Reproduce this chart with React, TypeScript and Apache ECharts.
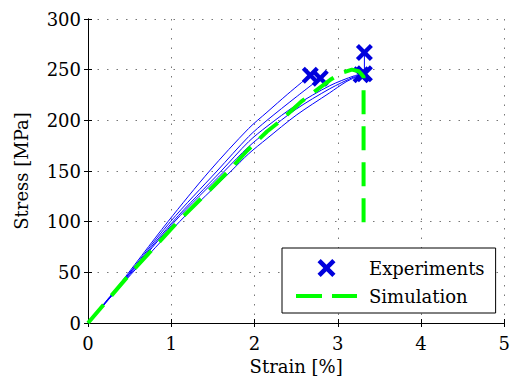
import React, { useEffect, useRef } from "react";
import * as echarts from "echarts";

const FONT = "DejaVu Serif";

// Strain [%] / Stress [MPa]
const expA = [[0, 0], [0.33, 33], [0.96, 100], [1.46, 150], [1.93, 192], [2.15, 208], [2.4, 226], [2.67, 244.5]];
const expB = [[0, 0], [0.33, 32], [0.99, 100], [1.55, 150], [1.93, 184], [2.15, 200], [2.5, 223], [2.79, 241.5]];
const expC = [[0, 0], [0.33, 32], [1.02, 100], [1.6, 150], [1.93, 179], [2.15, 194], [2.5, 215], [2.9, 234], [3.2, 244], [3.32, 246]];
const expCJump = [[3.32, 246], [3.32, 267]];
const expD = [[0, 0], [0.33, 31], [1.04, 100], [1.64, 150], [1.93, 174], [2.15, 189], [2.5, 211], [2.9, 231], [3.2, 243], [3.32, 246]];
const expE = [[0, 0], [0.33, 31], [1.1, 100], [1.72, 150], [1.93, 167], [2.15, 182], [2.5, 205], [2.9, 227], [3.1, 238], [3.28, 245]];

const failurePoints = [[2.67, 244.5], [2.79, 241.5], [3.32, 267], [3.32, 246], [3.28, 245]];

const simulation = [[0, 0], [0.52, 50], [1.08, 100], [1.69, 150], [1.91, 170], [2.15, 189], [2.29, 198], [2.57, 219], [2.91, 240], [3.05, 247], [3.17, 250], [3.25, 248.5], [3.29, 245], [3.31, 243], [3.31, 88]];

const xRange = { min: 0, max: 5, interval: 1 };
const yRange = { min: 0, max: 300, interval: 50 };

const CROSS = "path://M0,2.5L2.5,0L7,4.5L11.5,0L14,2.5L9.5,7L14,11.5L11.5,14L7,9.5L2.5,14L0,11.5L4.5,7Z";
const DASH_ICON = "path://M0,0H26V4H0Z M36,0H61V4H36Z";

export default function App() {
  const ref = useRef<HTMLDivElement>(null);
  useEffect(() => {
    if (!ref.current) return;
    const chart = echarts.init(ref.current, undefined, { renderer: "svg" });
    const axisLine = { show: true, lineStyle: { color: "#000", width: 1 } };
    const tick = { show: true, inside: true, length: 4, lineStyle: { color: "#000", width: 1 } };
    const split = { show: true, lineStyle: { color: "#777", width: 1, type: [1.5, 8] } };
    const label = { color: "#000", fontFamily: FONT, fontSize: 18 };
    const expLine = (data: number[][], smooth = true) => ({
      type: "line",
      data,
      symbol: "none",
      smooth: smooth ? 0.3 : false,
      silent: true,
      lineStyle: { color: "#0000ff", width: 1 },
      z: 2,
    });
    chart.setOption({
      animation: false,
      backgroundColor: "#fff",
      grid: { left: 88, right: 6, top: 19, bottom: 58, containLabel: false },
      xAxis: [
        {
          type: "value",
          ...xRange,
          name: "Strain [%]",
          nameLocation: "middle",
          nameGap: 34,
          nameTextStyle: { ...label },
          axisLine,
          axisTick: tick,
          splitLine: split,
          axisLabel: { ...label, margin: 11 },
        },
        {
          type: "value",
          position: "top",
          ...xRange,
          axisLine,
          axisTick: tick,
          splitLine: { show: false },
          axisLabel: { show: false },
        },
      ],
      yAxis: [
        {
          type: "value",
          ...yRange,
          name: "Stress [MPa]",
          nameLocation: "middle",
          nameGap: 58,
          nameTextStyle: { ...label },
          axisLine,
          axisTick: tick,
          splitLine: split,
          axisLabel: { ...label, margin: 7 },
        },
        {
          type: "value",
          position: "right",
          ...yRange,
          axisLine,
          axisTick: tick,
          splitLine: { show: false },
          axisLabel: { show: false },
        },
      ],
      legend: {
        left: 282,
        top: 248,
        orient: "vertical",
        data: [
          { name: "Experiments", icon: CROSS },
          { name: "Simulation", icon: DASH_ICON },
        ],
        itemWidth: 61,
        itemHeight: 18,
        itemGap: 10,
        padding: [11, 11, 8, 14],
        borderColor: "#000",
        borderWidth: 1,
        borderRadius: 0,
        backgroundColor: "#fff",
        selectedMode: false,
        textStyle: { ...label, padding: [0, 0, 0, 7] },
      },
      series: [
        { name: "expA", ...expLine(expA) },
        { name: "expB", ...expLine(expB) },
        { name: "expC", ...expLine(expC) },
        { name: "expCJump", ...expLine(expCJump, false) },
        { name: "expD", ...expLine(expD) },
        { name: "expE", ...expLine(expE) },
        {
          name: "Experiments",
          type: "scatter",
          data: failurePoints,
          symbol: CROSS,
          symbolSize: 17,
          itemStyle: { color: "#0000dd", opacity: 1 },
          z: 3,
        },
        {
          name: "Simulation",
          type: "line",
          data: simulation,
          symbol: "none",
          lineStyle: { color: "#00ff00", width: 4, type: [24, 12], cap: "butt" },
          itemStyle: { color: "#00ff00" },
          z: 4,
        },
      ],
    });
    return () => chart.dispose();
  }, []);
  return (
    <div
      ref={ref}
      style={{ position: "fixed", left: 0, top: 0, width: 513, height: 381, background: "#fff" }}
    />
  );
}
